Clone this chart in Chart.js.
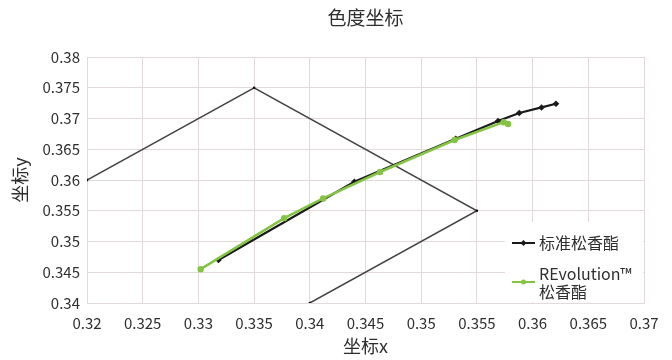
<!DOCTYPE html>
<html>
<head>
<meta charset="utf-8">
<title>色度坐标</title>
<script src="https://cdn.jsdelivr.net/npm/chart.js@4.4.1/dist/chart.umd.min.js"></script>
<style>
  html, body { margin: 0; padding: 0; background: #ffffff; }
  #wrap { width: 672px; height: 360px; }
</style>
</head>
<body>
<div id="wrap"><canvas id="chart" width="672" height="360"></canvas></div>
<script>
// Tick values and labels
const xTickValues = [0.32, 0.325, 0.33, 0.335, 0.34, 0.345, 0.35, 0.355, 0.36, 0.365, 0.37];
const xTickLabels = ['0.32', '0.325', '0.33', '0.335', '0.34', '0.345', '0.35', '0.355', '0.36', '0.365', '0.37'];
const yTickValues = [0.34, 0.345, 0.35, 0.355, 0.36, 0.365, 0.37, 0.375, 0.38];
const yTickLabels = ['0.34', '0.345', '0.35', '0.355', '0.36', '0.365', '0.37', '0.375', '0.38'];

// Colour-space boundary segment
const gamutX = [0.32, 0.335, 0.355, 0.34];
const gamutY = [0.36, 0.375, 0.355, 0.34];

// 标准松香酯
const standardX = [0.3318, 0.3440, 0.3531, 0.3569, 0.3588, 0.3608, 0.3621];
const standardY = [0.3470, 0.3597, 0.3667, 0.3696, 0.3709, 0.3718, 0.3724];

// REvolution™ 松香酯
const revolutionX = [0.3302, 0.3377, 0.3412, 0.3463, 0.3530, 0.3574, 0.3578];
const revolutionY = [0.3455, 0.3538, 0.3570, 0.3613, 0.3665, 0.3694, 0.3691];

const chartTitle = '色度坐标';
const standardName = '标准松香酯';
const revolutionName = ['REvolution™', '松香酯'];

const FONT = '"Noto Sans CJK SC", "Noto Sans", sans-serif';
const GRID = '#e2dada';
const TEXT = '#2e2e2e';
const BLACK = '#1a1a1a';
const GREEN = '#84c444';
const GAMUT = '#444444';

const toPoints = (xs, ys) => xs.map((x, i) => ({ x: x, y: ys[i] }));

// Title centred over the plot area
const plotTitle = {
  id: 'plotTitle',
  afterDraw(chart) {
    const ctx = chart.ctx;
    const area = chart.chartArea;
    ctx.save();
    ctx.font = '19px ' + FONT;
    ctx.fillStyle = TEXT;
    ctx.textAlign = 'center';
    ctx.textBaseline = 'middle';
    ctx.fillText(chartTitle, (area.left + area.right) / 2, 18);
    ctx.restore();
  }
};

// Legend drawn inside the lower-right corner of the plot
const cornerLegend = {
  id: 'cornerLegend',
  afterDraw(chart) {
    const ctx = chart.ctx;
    const area = chart.chartArea;
    const boxLeft = 505, boxTop = 222;
    ctx.save();
    ctx.fillStyle = '#ffffff';
    ctx.fillRect(boxLeft, boxTop, area.right - boxLeft - 1, area.bottom - boxTop - 1);

    const sx0 = 512, sx1 = 535, tx = 539;
    const cx = (sx0 + sx1) / 2;
    ctx.font = '16px ' + FONT;
    ctx.textBaseline = 'middle';
    ctx.textAlign = 'left';

    // item 1
    let y = 243;
    ctx.strokeStyle = BLACK; ctx.lineWidth = 2;
    ctx.beginPath(); ctx.moveTo(sx0, y); ctx.lineTo(sx1, y); ctx.stroke();
    ctx.fillStyle = BLACK;
    ctx.beginPath();
    ctx.moveTo(cx, y - 3); ctx.lineTo(cx + 3, y); ctx.lineTo(cx, y + 3); ctx.lineTo(cx - 3, y); ctx.closePath();
    ctx.fill();
    ctx.fillStyle = TEXT;
    ctx.fillText(standardName, tx, y);

    // item 2
    y = 282;
    ctx.strokeStyle = GREEN; ctx.lineWidth = 2;
    ctx.beginPath(); ctx.moveTo(sx0, y); ctx.lineTo(sx1, y); ctx.stroke();
    ctx.fillStyle = GREEN;
    ctx.beginPath(); ctx.arc(cx, y, 2.5, 0, Math.PI * 2); ctx.fill();
    ctx.fillStyle = TEXT;
    ctx.fillText(revolutionName[0], tx, 274);
    ctx.fillText(revolutionName[1], tx, 292);
    ctx.restore();
  }
};

new Chart(document.getElementById('chart'), {
  type: 'line',
  data: {
    datasets: [
      {
        label: 'gamut',
        data: toPoints(gamutX, gamutY),
        borderColor: GAMUT,
        borderWidth: 1.5,
        pointStyle: 'rect',
        pointRadius: 1.6,
        pointBackgroundColor: '#111111',
        pointBorderWidth: 0,
        tension: 0,
        order: 3
      },
      {
        label: standardName,
        data: toPoints(standardX, standardY),
        borderColor: BLACK,
        borderWidth: 2.2,
        pointStyle: 'rectRot',
        pointRadius: 3.3,
        pointBackgroundColor: BLACK,
        pointBorderWidth: 0,
        tension: 0,
        order: 2
      },
      {
        label: revolutionName.join(' '),
        data: toPoints(revolutionX, revolutionY),
        borderColor: GREEN,
        borderWidth: 2.5,
        pointStyle: 'circle',
        pointRadius: 3.2,
        pointBackgroundColor: GREEN,
        pointBorderWidth: 0,
        tension: 0,
        order: 1
      }
    ]
  },
  options: {
    responsive: false,
    animation: false,
    devicePixelRatio: 1,
    layout: { padding: { left: 0, right: 28, top: 57, bottom: 0 } },
    plugins: {
      legend: { display: false },
      tooltip: { enabled: false },
      title: { display: false }
    },
    scales: {
      x: {
        type: 'linear',
        min: 0.32,
        max: 0.37,
        afterBuildTicks: s => { s.ticks = xTickValues.map(v => ({ value: v })); },
        afterFit: s => { s.height = 57; },
        ticks: {
          color: TEXT,
          font: { family: FONT, size: 15 },
          padding: 11,
          maxRotation: 0,
          autoSkip: false,
          callback: (v, i) => xTickLabels[i]
        },
        grid: { color: GRID, lineWidth: 1, drawTicks: false },
        border: { color: GRID, width: 1 },
        title: {
          display: true,
          text: '坐标x',
          color: TEXT,
          font: { family: FONT, size: 18 },
          padding: { top: 0, bottom: 3 }
        }
      },
      y: {
        type: 'linear',
        min: 0.34,
        max: 0.38,
        afterBuildTicks: s => { s.ticks = yTickValues.map(v => ({ value: v })); },
        afterFit: s => { s.width = 87; },
        ticks: {
          color: TEXT,
          font: { family: FONT, size: 15 },
          padding: 7,
          autoSkip: false,
          callback: (v, i) => yTickLabels[i]
        },
        grid: { color: GRID, lineWidth: 1, drawTicks: false },
        border: { color: GRID, width: 1 },
        title: {
          display: true,
          text: '坐标y',
          color: TEXT,
          font: { family: FONT, size: 18 },
          padding: { top: 9, bottom: 0 }
        }
      }
    }
  },
  plugins: [plotTitle, cornerLegend]
});
</script>
</body>
</html>
